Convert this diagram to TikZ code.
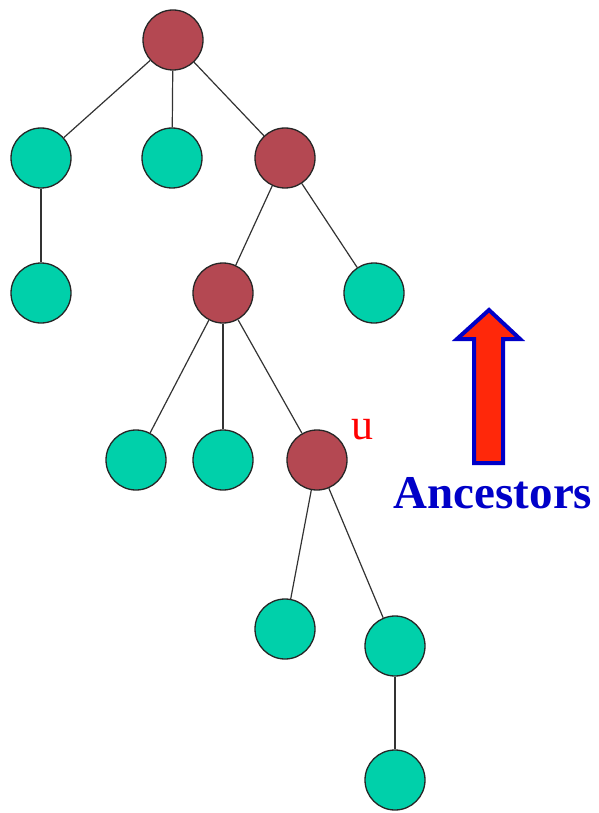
\documentclass[tikz,border=0pt]{standalone}
\usepackage{fontspec}
\setmainfont{Liberation Serif}
\definecolor{deepred}{RGB}{180,72,82}
\definecolor{jade}{RGB}{0,208,170}
\definecolor{arrowred}{RGB}{255,40,10}
\definecolor{arrowblue}{RGB}{0,0,200}
\newcommand{\ancnode}[2]{%
 \node[treenode,fill=deepred] ({#1}) at ({#2}) {};%
}
\newcommand{\plainnode}[2]{%
 \node[treenode,fill=jade] ({#1}) at ({#2}) {};%
}

\begin{document}
\begin{tikzpicture}[x=1pt,y=-1pt,
  treenode/.style={circle,draw=black!85,line width=1.3pt,minimum size=60pt,inner sep=0pt},
  treeedge/.style={draw=black!80,line width=1.2pt}]
  \useasboundingbox (0,0) rectangle (598,813);
  % the path from the root down to u
  \ancnode{root}{173,40};
  \ancnode{c}{285,158};
  \ancnode{e}{223,293};
  \ancnode{u}{317,460};
  % the rest of the tree
  \plainnode{a}{41,158};
  \plainnode{b}{172,158};
  \plainnode{d}{41,293};
  \plainnode{f}{374,293};
  \plainnode{g}{136,460};
  \plainnode{h}{223,460};
  \plainnode{i}{285,629};
  \plainnode{j}{395,646};
  \plainnode{k}{395,780};
  \foreach \p/\q in {root/a,root/b,root/c,a/d,c/e,c/f,e/g,e/h,e/u,u/i,u/j,j/k}
    \path[treeedge] (\p) -- (\q);
  \node[text=red,font=\fontsize{44}{44}\selectfont,inner sep=0pt] (ulabel) at (362,430) {u};
  % up arrow
  \filldraw[draw=arrowblue,fill=arrowred,line width=4pt]
    (489,310) -- (520,339) -- (503,339) -- (503,463) -- (474,463) -- (474,339) -- (457,339) -- cycle;
  \node[text=arrowblue,font=\bfseries\fontsize{47}{47}\selectfont,inner sep=0pt] (anc) at (493,493) {Ancestors};
\end{tikzpicture}
\end{document}
